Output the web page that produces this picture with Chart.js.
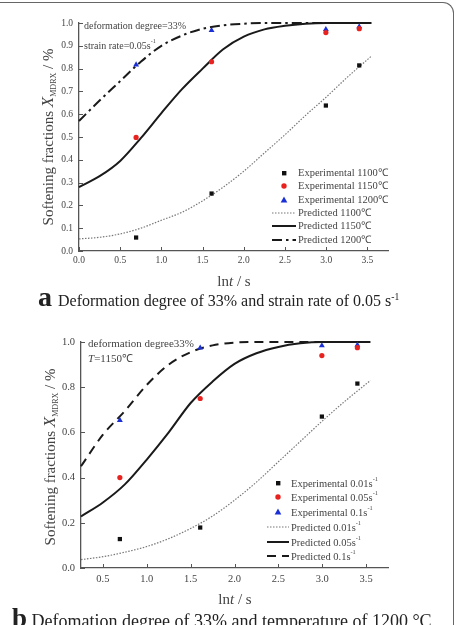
<!DOCTYPE html>
<html><head><meta charset="utf-8">
<script src="https://cdn.jsdelivr.net/npm/chart.js@4.4.0/dist/chart.umd.min.js"></script>
<style>
body{margin:0;background:#fff;width:457px;height:625px;overflow:hidden;position:relative;font-family:"Liberation Serif","Times New Roman",serif;color:#333}
.frame{position:absolute;left:-14px;top:2px;width:468px;height:700px;border-top:1.5px solid #666;border-right:1.5px solid #666;border-top-right-radius:11px;box-sizing:border-box}
canvas{position:absolute;left:0}
.t{position:absolute;white-space:nowrap;line-height:1}
.yt{font-size:15px;color:#444;transform:translate(-50%,-50%) rotate(-90deg)}
.yt i{font-size:17px}
.yt sub{font-size:8px;vertical-align:-3px}
.xt{font-size:15px;color:#444;transform:translate(-50%,-50%)}
.cap{color:#222}
.cap b{font-weight:bold}
sup{font-size:60%;vertical-align:6px}
.ann{color:#444;transform:translateY(-50%)}
.leg{position:absolute;font-size:10.5px;color:#444}
.leg .row{position:absolute;white-space:nowrap;line-height:1}
.leg svg{position:absolute}
</style>
</head><body>
<div class="frame"></div>
<canvas id="ca" width="457" height="290" style="top:0"></canvas>
<canvas id="cb" width="457" height="300" style="top:310px"></canvas>

<div class="t yt" style="left:48px;top:137px">Softening fractions <i>X</i><sub>MDRX</sub> / %</div>
<div class="t xt" style="left:234px;top:281px">ln<i>t</i> / s</div>
<div class="t cap" style="left:38px;top:283px;font-size:16px"><b style="font-size:28px">a</b><span style="margin-left:6px">Deformation degree of 33% and strain rate of 0.05 s<sup>-1</sup></span></div>
<div class="t ann" style="left:84px;top:26px;font-size:10px">deformation degree=33%</div>
<div class="t ann" style="left:84px;top:44px;font-size:10px">strain rate=0.05s<sup>-1</sup></div>

<div class="t yt" style="left:50px;top:457px">Softening fractions <i>X</i><sub>MDRX</sub> / %</div>
<div class="t xt" style="left:235px;top:599px">ln<i>t</i> / s</div>
<div class="t cap" style="left:12px;top:605px;font-size:18px"><b style="font-size:27px">b</b> Defomation degree of 33% and temperature of 1200 °C</div>
<div class="t ann" style="left:88px;top:343px;font-size:11px">deformation degree33%</div>
<div class="t ann" style="left:88px;top:358px;font-size:11px"><i>T</i>=1150℃</div>

<div id="legA" class="leg"></div>
<div id="legB" class="leg"></div>

<script>
// ---------- shared ----------
const lnT = [0.693, 1.609, 2.996, 3.401];

// ---------- chart a ----------
const aTemps = ['1100', '1150', '1200'];
const aExp1100 = [0.059, 0.252, 0.638, 0.814];
const aExp1150 = [0.498, 0.830, 0.958, 0.975];
const aExp1200 = [0.817, 0.968, 0.972, 0.984];
const aPredX    = [0, 0.25, 0.5, 0.75, 1.0, 1.25, 1.5, 1.75, 2.0, 2.25, 2.5, 2.75, 3.0, 3.25, 3.55];
const aPred1100 = [0.053, 0.060, 0.075, 0.100, 0.135, 0.170, 0.220, 0.280, 0.350, 0.430, 0.510, 0.595, 0.675, 0.760, 0.855];
const aPred1150 = [0.280, 0.328, 0.395, 0.495, 0.605, 0.710, 0.800, 0.885, 0.940, 0.972, 0.988, 0.997, 1.000, 1.000, 1.000];
const aPred1200 = [0.570, 0.660, 0.745, 0.830, 0.900, 0.945, 0.975, 0.990, 0.997, 1.000, 1.000, 1.000, 1.000, 1.000, 1.000];
const aXTicks = [0, 0.5, 1.0, 1.5, 2.0, 2.5, 3.0, 3.5];
const aYTicks = [0, 0.1, 0.2, 0.3, 0.4, 0.5, 0.6, 0.7, 0.8, 0.9, 1.0];

// ---------- chart b ----------
const bRates = ['0.01', '0.05', '0.1'];
const bExp001 = [0.128, 0.179, 0.670, 0.816];
const bExp005 = [0.400, 0.750, 0.940, 0.975];
const bExp01  = [0.654, 0.974, 0.984, 0.987];
const bPredX   = [0.25, 0.5, 0.75, 1.0, 1.25, 1.5, 1.75, 2.0, 2.25, 2.5, 2.75, 3.0, 3.25, 3.55];
const bPred001 = [0.037, 0.050, 0.070, 0.095, 0.130, 0.175, 0.230, 0.300, 0.380, 0.470, 0.560, 0.650, 0.735, 0.830];
const bPred005 = [0.228, 0.290, 0.370, 0.480, 0.600, 0.730, 0.825, 0.903, 0.950, 0.978, 0.994, 1.000, 1.000, 1.000];
const bPred01  = [0.450, 0.590, 0.695, 0.810, 0.900, 0.955, 0.985, 0.997, 1.000, 1.000, 1.000, 1.000, 1.000, 1.000];
const bXTicks = [0.5, 1.0, 1.5, 2.0, 2.5, 3.0, 3.5];
const bYTicks = [0, 0.2, 0.4, 0.6, 0.8, 1.0];

const RED = '#e8231f', BLUE = '#1b2fd6', BLACK = '#111';
const pts = (xs, ys) => xs.map((x, i) => ({x, y: ys[i]}));

function expSet(label, ys, color, style, r) {
  return {type:'scatter', label, data: pts(lnT, ys), showLine:false, pointStyle: style,
    pointRadius: r, pointBackgroundColor: color, pointBorderColor: color, pointBorderWidth: 0, order: 1, clip:false};
}
function predSet(label, xs, ys, color, width, dash) {
  return {type:'line', label, data: pts(xs, ys), showLine:true, borderColor: color, borderWidth: width,
    borderDash: dash, pointRadius: 0, fill:false, cubicInterpolationMode:'monotone', order: 2, clip:false};
}

const tickPlugin = {
  id:'inTicks',
  afterDraw(chart) {
    const {ctx, chartArea: a, scales:{x, y}} = chart;
    ctx.save(); ctx.strokeStyle = '#555'; ctx.lineWidth = 1;
    x.ticks.forEach(t => { const p = Math.round(x.getPixelForValue(t.value)) + 0.5;
      ctx.beginPath(); ctx.moveTo(p, a.bottom); ctx.lineTo(p, a.bottom - 4); ctx.stroke(); });
    y.ticks.forEach(t => { const p = Math.round(y.getPixelForValue(t.value)) + 0.5;
      ctx.beginPath(); ctx.moveTo(a.left, p); ctx.lineTo(a.left + 4, p); ctx.stroke(); });
    ctx.restore();
  }
};

function makeChart(id, datasets, o) {
  return new Chart(document.getElementById(id), {
    data: {datasets},
    plugins: [tickPlugin],
    options: {
      responsive:false, animation:false, devicePixelRatio:1,
      layout:{padding:{top:o.padTop, left:0, right:o.padRight, bottom:0}},
      plugins:{legend:{display:false}, tooltip:{enabled:false}},
      scales:{
        x:{type:'linear', min:o.xMin, max:o.xMax,
          afterFit: s => { s.height = o.xH; },
          afterBuildTicks: s => { s.ticks = o.xTicks.map(v => ({value:v})); },
          grid:{display:true, drawOnChartArea:false, drawTicks:false},
          border:{display:true, color:'#555', width:1.3},
          ticks:{padding:o.tickPadX, color:'#444', font:{family:'"Liberation Serif", serif', size:o.tickSize}, callback: v => v.toFixed(1), maxRotation:0, autoSkip:false}},
        y:{type:'linear', min:0, max:1,
          afterFit: s => { s.width = o.yW; },
          afterBuildTicks: s => { s.ticks = o.yTicks.map(v => ({value:v})); },
          grid:{display:true, drawOnChartArea:false, drawTicks:false},
          border:{display:true, color:'#555', width:1.3},
          ticks:{padding:6, color:'#444', font:{family:'"Liberation Serif", serif', size:o.tickSize}, callback: v => v.toFixed(1), autoSkip:false}}
      }
    }
  });
}

const aSets = [
  predSet('Predicted ' + aTemps[0] + '℃', aPredX, aPred1100, '#777', 1.2, [1.5, 1.5]),
  predSet('Predicted ' + aTemps[1] + '℃', aPredX, aPred1150, '#1a1a1a', 2, []),
  predSet('Predicted ' + aTemps[2] + '℃', aPredX, aPred1200, '#1a1a1a', 2, [10, 4, 2.5, 4]),
  expSet('Experimental ' + aTemps[0] + '℃', aExp1100, BLACK, 'rect', 3),
  expSet('Experimental ' + aTemps[1] + '℃', aExp1150, RED, 'circle', 2.6),
  expSet('Experimental ' + aTemps[2] + '℃', aExp1200, BLUE, 'triangle', 3.4),
];
const bSets = [
  predSet('Predicted ' + bRates[0] + 's', bPredX, bPred001, '#777', 1.2, [1.5, 1.5]),
  predSet('Predicted ' + bRates[1] + 's', bPredX, bPred005, '#1a1a1a', 2, []),
  predSet('Predicted ' + bRates[2] + 's', bPredX, bPred01, '#1a1a1a', 2, [9, 6]),
  expSet('Experimental ' + bRates[0] + 's', bExp001, BLACK, 'rect', 3),
  expSet('Experimental ' + bRates[1] + 's', bExp005, RED, 'circle', 2.6),
  expSet('Experimental ' + bRates[2] + 's', bExp01, BLUE, 'triangle', 3.4),
];

makeChart('ca', aSets, {padTop:23, padRight:69, xMin:0, xMax:3.75, xH:39, yW:79, xTicks:aXTicks, yTicks:aYTicks, tickSize:9.5, tickPadX:4});
makeChart('cb', bSets, {padTop:32, padRight:69, xMin:0.25, xMax:3.75, xH:42, yW:81, xTicks:bXTicks, yTicks:bYTicks, tickSize:10.5, tickPadX:5});

// ---------- HTML legends built from the datasets ----------
function buildLegend(el, sets, o) {
  const order = [3, 4, 5, 0, 1, 2];
  let html = '';
  order.forEach((di, k) => {
    const d = sets[di];
    const cy = o.y0 + k * o.dy;
    let sym;
    if (d.showLine) {
      const dash = (d.borderDash && d.borderDash.length) ? `stroke-dasharray="${d.borderDash.join(',')}"` : '';
      sym = `<svg style="left:${o.lx0}px;top:${cy-3}px" width="${o.lx1-o.lx0}" height="6"><line x1="0" y1="3" x2="${o.lx1-o.lx0}" y2="3" stroke="${d.borderColor}" stroke-width="${d.borderWidth}" ${dash}/></svg>`;
    } else {
      const c = d.pointBackgroundColor;
      let shape;
      if (d.pointStyle === 'rect') shape = `<rect x="2" y="2" width="4.4" height="4.4" fill="${c}"/>`;
      else if (d.pointStyle === 'circle') shape = `<circle cx="4" cy="4" r="2.7" fill="${c}"/>`;
      else shape = `<polygon points="4,0.6 7.3,6.6 0.7,6.6" fill="${c}"/>`;
      sym = `<svg style="left:${o.sx-4}px;top:${cy-4}px" width="8" height="8">${shape}</svg>`;
    }
    const txt = d.label + (o.sup ? '<sup>-1</sup>' : '');
    html += sym + `<div class="row" style="left:${o.tx}px;top:${cy}px;transform:translateY(-50%)">${txt}</div>`;
  });
  el.innerHTML = html;
}
buildLegend(document.getElementById('legA'), aSets, {y0:173, dy:13.3, sx:284, tx:298, lx0:272, lx1:296, sup:false});
buildLegend(document.getElementById('legB'), bSets, {y0:482.7, dy:14.7, sx:278, tx:291, lx0:267, lx1:289, sup:true});
</script>
</body></html>
